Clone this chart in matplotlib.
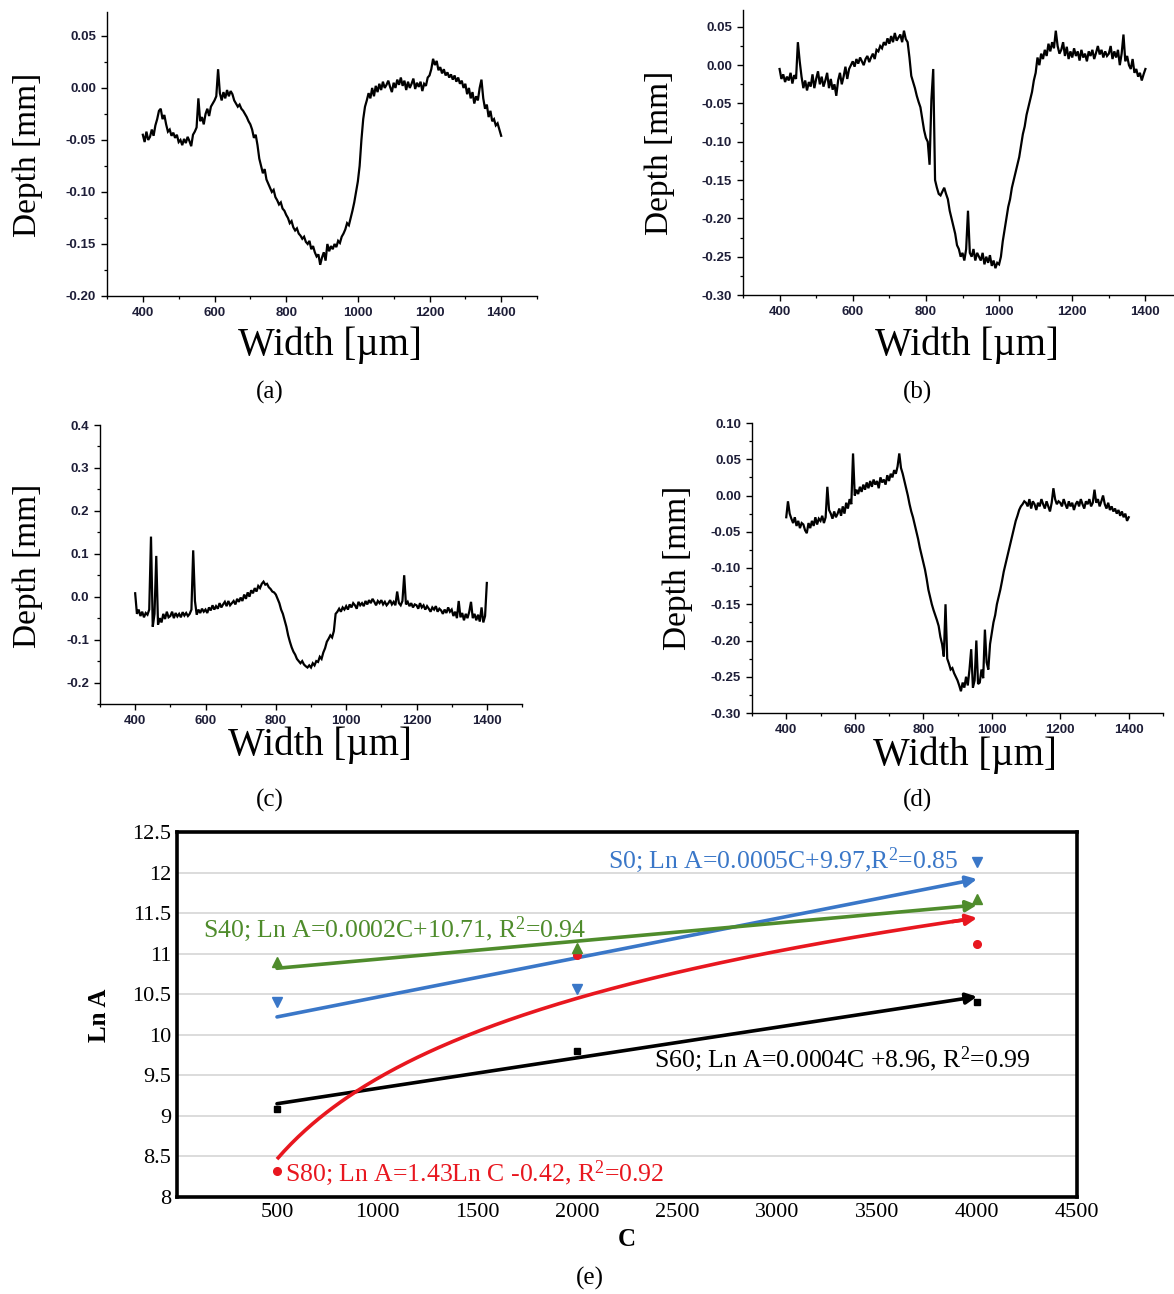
import numpy as np
import matplotlib
matplotlib.use("Agg")
import matplotlib.pyplot as plt
from matplotlib.ticker import FixedLocator, MultipleLocator, FuncFormatter

plt.rcParams['mathtext.fontset'] = 'custom'
plt.rcParams['mathtext.rm'] = 'Liberation Serif'
plt.rcParams['mathtext.it'] = 'Liberation Serif:italic'
plt.rcParams['mathtext.bf'] = 'Liberation Serif:bold'

W, H = 1174, 1294

# ---------------- profile data (panels a-d) ----------------
width_um = np.arange(400, 1401, 5)
width_ticks = [400, 600, 800, 1000, 1200, 1400]

depth_a = [
    -0.045, -0.052, -0.042, -0.050, -0.047, -0.040, -0.046, -0.036, -0.030, -0.022,
    -0.020, -0.030, -0.026, -0.035, -0.042, -0.040, -0.046, -0.043, -0.048, -0.045,
    -0.052, -0.050, -0.055, -0.049, -0.053, -0.047, -0.051, -0.056, -0.045, -0.042,
    -0.038, -0.010, -0.032, -0.028, -0.035, -0.025, -0.020, -0.027, -0.018, -0.015,
    -0.012, -0.008, 0.018, -0.005, -0.012, -0.004, -0.010, -0.002, -0.008, -0.003,
    -0.006, -0.012, -0.015, -0.018, -0.016, -0.020, -0.022, -0.025, -0.028, -0.032,
    -0.035, -0.040, -0.048, -0.045, -0.055, -0.068, -0.075, -0.082, -0.078, -0.088,
    -0.092, -0.096, -0.100, -0.098, -0.105, -0.108, -0.112, -0.110, -0.116, -0.118,
    -0.122, -0.125, -0.130, -0.128, -0.134, -0.137, -0.135, -0.140, -0.142, -0.145,
    -0.143, -0.148, -0.150, -0.147, -0.155, -0.152, -0.158, -0.162, -0.160, -0.170,
    -0.163, -0.158, -0.166, -0.150, -0.157, -0.152, -0.155, -0.150, -0.153, -0.147,
    -0.149, -0.143, -0.140, -0.136, -0.130, -0.132, -0.125, -0.118, -0.110, -0.100,
    -0.090, -0.075, -0.050, -0.030, -0.018, -0.012, -0.005, -0.010, 0.000, -0.008,
    0.002, -0.004, 0.004, -0.002, 0.006, 0.000, 0.003, 0.007, 0.001, -0.004,
    0.005, 0.000, 0.008, 0.003, 0.010, 0.002, 0.007, -0.002, 0.006, 0.000,
    0.004, 0.009, -0.001, 0.005, 0.001, 0.006, -0.003, 0.004, 0.002, 0.010,
    0.012, 0.018, 0.028, 0.022, 0.026, 0.017, 0.020, 0.014, 0.018, 0.012,
    0.015, 0.010, 0.013, 0.008, 0.012, 0.006, 0.010, 0.004, 0.007, 0.000,
    0.004, -0.006, 0.000, -0.010, -0.004, -0.015, -0.008, -0.012, 0.000, 0.008,
    -0.010, -0.020, -0.016, -0.028, -0.022, -0.032, -0.030, -0.036, -0.034, -0.040,
    -0.046]

depth_b = [
    -0.005, -0.018, -0.012, -0.022, -0.015, -0.020, -0.010, -0.024, -0.013, -0.018,
    0.030, 0.005, -0.015, -0.030, -0.020, -0.033, -0.022, -0.028, -0.012, -0.030,
    -0.018, -0.008, -0.025, -0.015, -0.028, -0.020, -0.010, -0.030, -0.018, -0.032,
    -0.025, -0.040, -0.020, -0.010, -0.025, -0.015, -0.002, -0.018, -0.005, 0.000,
    0.005, -0.002, 0.008, 0.002, 0.010, 0.005, 0.000, 0.008, 0.012, 0.004,
    0.010, 0.015, 0.008, 0.020, 0.018, 0.025, 0.022, 0.030, 0.026, 0.035,
    0.028, 0.038, 0.030, 0.042, 0.032, 0.036, 0.040, 0.030, 0.045, 0.034,
    0.030, 0.010, -0.014, -0.022, -0.030, -0.040, -0.048, -0.055, -0.070, -0.085,
    -0.095, -0.100, -0.130, -0.045, -0.005, -0.150, -0.160, -0.168, -0.170, -0.165,
    -0.160, -0.168, -0.175, -0.190, -0.200, -0.210, -0.220, -0.235, -0.240, -0.250,
    -0.245, -0.255, -0.240, -0.190, -0.245, -0.250, -0.240, -0.255, -0.245, -0.250,
    -0.255, -0.245, -0.260, -0.250, -0.258, -0.248, -0.262, -0.255, -0.265, -0.258,
    -0.260, -0.250, -0.230, -0.215, -0.200, -0.185, -0.175, -0.160, -0.150, -0.140,
    -0.130, -0.120, -0.105, -0.090, -0.080, -0.065, -0.055, -0.045, -0.035, -0.020,
    -0.010, 0.010, 0.000, 0.015, 0.008, 0.020, 0.012, 0.028, 0.018, 0.030,
    0.022, 0.045, 0.025, 0.015, 0.020, 0.030, 0.012, 0.024, 0.008, 0.018,
    0.010, 0.022, 0.012, 0.018, 0.006, 0.020, 0.010, 0.015, 0.005, 0.018,
    0.012, 0.020, 0.008, 0.016, 0.025, 0.014, 0.020, 0.010, 0.018, 0.012,
    0.015, 0.025, 0.008, 0.018, 0.010, 0.020, 0.000, 0.015, 0.040, 0.005,
    0.012, 0.000, -0.005, 0.008, -0.010, -0.005, -0.015, -0.010, -0.020, -0.012,
    -0.005]

depth_c = [
    0.008, -0.040, -0.030, -0.045, -0.035, -0.048, -0.038, -0.042, -0.030, 0.140,
    -0.070, -0.040, 0.095, -0.065, -0.050, -0.060, -0.040, -0.052, -0.035, -0.048,
    -0.045, -0.035, -0.050, -0.038, -0.046, -0.040, -0.048, -0.036, -0.044, -0.038,
    -0.045, -0.040, -0.030, 0.108, -0.010, -0.042, -0.030, -0.038, -0.028, -0.035,
    -0.030, -0.038, -0.025, -0.032, -0.020, -0.030, -0.022, -0.028, -0.015, -0.025,
    -0.018, -0.012, -0.022, -0.010, -0.020, -0.015, -0.010, -0.018, -0.005, -0.012,
    -0.002, -0.010, 0.005, -0.005, 0.010, 0.000, 0.015, 0.008, 0.020, 0.012,
    0.025, 0.020, 0.030, 0.035, 0.028, 0.030, 0.022, 0.018, 0.012, 0.010,
    0.005, -0.005, -0.015, -0.030, -0.040, -0.055, -0.070, -0.090, -0.105, -0.118,
    -0.128, -0.135, -0.145, -0.150, -0.155, -0.150, -0.158, -0.162, -0.165, -0.160,
    -0.165, -0.155, -0.160, -0.150, -0.152, -0.140, -0.145, -0.130, -0.120, -0.105,
    -0.098, -0.090, -0.095, -0.080, -0.040, -0.035, -0.028, -0.035, -0.025, -0.030,
    -0.022, -0.030, -0.018, -0.025, -0.015, -0.020, -0.028, -0.012, -0.020, -0.015,
    -0.022, -0.010, -0.018, -0.008, -0.015, -0.005, -0.012, -0.020, -0.010, -0.015,
    -0.008, -0.018, -0.012, -0.020, -0.015, -0.008, -0.018, -0.012, -0.020, 0.012,
    -0.015, -0.020, -0.010, 0.050, -0.018, -0.012, -0.022, -0.015, -0.025, -0.018,
    -0.020, -0.028, -0.015, -0.025, -0.020, -0.030, -0.022, -0.028, -0.035, -0.025,
    -0.030, -0.022, -0.035, -0.028, -0.032, -0.040, -0.030, -0.038, -0.025, -0.035,
    -0.030, -0.045, -0.035, -0.050, -0.010, -0.048, -0.038, -0.055, -0.040, -0.050,
    -0.035, -0.012, -0.050, -0.040, -0.055, -0.042, -0.058, -0.025, -0.060, -0.045,
    0.032]

depth_d = [
    -0.030, -0.008, -0.025, -0.032, -0.038, -0.030, -0.042, -0.035, -0.045, -0.038,
    -0.040, -0.048, -0.052, -0.038, -0.045, -0.035, -0.042, -0.030, -0.040, -0.032,
    -0.035, -0.028, -0.038, -0.030, 0.012, -0.020, -0.025, -0.032, -0.022, -0.030,
    -0.025, -0.018, -0.028, -0.015, -0.025, -0.010, -0.018, -0.005, -0.012, 0.058,
    0.000, 0.008, 0.002, 0.012, 0.005, 0.015, 0.008, 0.018, 0.010, 0.020,
    0.012, 0.022, 0.015, 0.020, 0.010, 0.025, 0.018, 0.022, 0.015, 0.028,
    0.020, 0.030, 0.025, 0.035, 0.030, 0.040, 0.058, 0.038, 0.030, 0.020,
    0.010, 0.000, -0.012, -0.022, -0.030, -0.040, -0.050, -0.060, -0.072, -0.082,
    -0.092, -0.102, -0.115, -0.130, -0.140, -0.150, -0.158, -0.165, -0.172, -0.180,
    -0.195, -0.205, -0.222, -0.150, -0.225, -0.232, -0.240, -0.238, -0.245, -0.250,
    -0.255, -0.262, -0.270, -0.258, -0.265, -0.250, -0.262, -0.240, -0.212, -0.265,
    -0.255, -0.200, -0.260, -0.258, -0.240, -0.252, -0.185, -0.230, -0.240, -0.205,
    -0.190, -0.175, -0.165, -0.150, -0.140, -0.130, -0.118, -0.105, -0.095, -0.085,
    -0.075, -0.065, -0.055, -0.045, -0.035, -0.028, -0.020, -0.015, -0.012, -0.008,
    -0.010, -0.015, -0.005, -0.018, -0.008, -0.012, -0.020, -0.010, -0.015, -0.005,
    -0.012, -0.018, -0.008, -0.015, -0.022, -0.010, 0.010, -0.005, -0.012, -0.008,
    -0.010, -0.015, -0.005, -0.012, -0.018, -0.008, -0.015, -0.010, -0.020, -0.012,
    -0.008, -0.015, -0.005, -0.012, -0.018, -0.008, -0.012, -0.005, -0.015, -0.010,
    0.008, -0.010, -0.005, -0.015, -0.008, 0.000, -0.012, -0.018, -0.010, -0.020,
    -0.015, -0.022, -0.018, -0.025, -0.020, -0.028, -0.022, -0.030, -0.025, -0.035,
    -0.030]

depth_ticks_a = [-0.20, -0.15, -0.10, -0.05, 0.00, 0.05]
depth_ticks_b = [-0.30, -0.25, -0.20, -0.15, -0.10, -0.05, 0.00, 0.05]
depth_ticks_c = [-0.2, -0.1, 0.0, 0.1, 0.2, 0.3, 0.4]
depth_ticks_d = [-0.30, -0.25, -0.20, -0.15, -0.10, -0.05, 0.00, 0.05, 0.10]

# ---------------- panel (e) data ----------------
C_values = [500, 2000, 4000]
lnA_S0 = [10.40, 10.57, 12.13]
lnA_S40 = [10.90, 11.07, 11.68]
lnA_S60 = [9.08, 9.80, 10.40]
lnA_S80 = [8.32, 10.98, 11.12]
trend_C = [500, 4000]
trend_S0 = [10.22, 11.92]
trend_S40 = [10.82, 11.60]
trend_S60 = [9.15, 10.47]
log_fit_S80 = [1.43, -0.42]   # Ln A = a*Ln C + b
C_ticks = [500, 1000, 1500, 2000, 2500, 3000, 3500, 4000, 4500]
lnA_ticks = [8, 8.5, 9, 9.5, 10, 10.5, 11, 11.5, 12, 12.5]

labels_e = ["S0; Ln A=0.0005C+9.97,R$^2$=0.85",
            "S40; Ln A=0.0002C+10.71, R$^2$=0.94",
            "S60; Ln A=0.0004C +8.96, R$^2$=0.99",
            "S80; Ln A=1.43Ln C -0.42, R$^2$=0.92"]

fig = plt.figure(figsize=(W / 100, H / 100), dpi=100)


def rect(left, top, right, bottom):
    return [left / W, 1 - bottom / H, (right - left) / W, (bottom - top) / H]


def ftext(px, py, s, **kw):
    fig.text(px / W, 1 - py / H, s, ha='center', va='center', **kw)


serif = 'Liberation Serif'
tick_col = '#1e1e38'


def profile_panel(r, y, ylim, yticks, yminor, fmt):
    ax = fig.add_axes(r)
    ax.plot(width_um, y, color='black', lw=1.6, solid_joinstyle='miter')
    ax.set_xlim(300, 1500)
    ax.set_ylim(*ylim)
    ax.xaxis.set_major_locator(FixedLocator(width_ticks))
    ax.xaxis.set_minor_locator(MultipleLocator(100))
    ax.yaxis.set_major_locator(FixedLocator(yticks))
    ax.yaxis.set_minor_locator(MultipleLocator(yminor))
    ax.yaxis.set_major_formatter(FuncFormatter(lambda v, p: fmt % v))
    for s in ['top', 'right']:
        ax.spines[s].set_visible(False)
    for s in ['left', 'bottom']:
        ax.spines[s].set_linewidth(1.0)
    ax.tick_params(which='major', direction='out', length=4, width=1.0,
                   labelsize=9.5, labelcolor=tick_col, pad=4)
    ax.tick_params(which='minor', direction='out', length=2.5, width=0.9)
    for lab in ax.get_xticklabels() + ax.get_yticklabels():
        lab.set_fontfamily('Liberation Sans')
        lab.set_fontweight('bold')
    return ax


profile_panel(rect(107, 12, 537, 296), depth_a, (-0.20, 0.073), depth_ticks_a, 0.025, '%.2f')
profile_panel(rect(743, 10, 1182, 295), depth_b, (-0.30, 0.072), depth_ticks_b, 0.025, '%.2f')
profile_panel(rect(100, 425, 522, 704), depth_c, (-0.25, 0.40), depth_ticks_c, 0.05, '%.1f')
profile_panel(rect(752, 423, 1163, 713), depth_d, (-0.30, 0.10), depth_ticks_d, 0.025, '%.2f')

lab_kw = dict(family=serif, color='black')
for (dx, dy), (wx, wy), (cx, cy), cap in [((28, 155), (330, 345), (270, 392), '(a)'),
                                          ((660, 153), (967, 345), (917, 392), '(b)'),
                                          ((28, 566), (320, 745), (270, 800), '(c)'),
                                          ((678, 568), (965, 755), (917, 800), '(d)')]:
    ftext(dx, dy, 'Depth [mm]', rotation=90, fontsize=24, **lab_kw)
    ftext(wx, wy, 'Width [µm]', fontsize=28, **lab_kw)
    ftext(cx, cy, cap, fontsize=18, **lab_kw)

# ---------------- panel (e) ----------------
axe = fig.add_axes(rect(177, 832, 1077, 1197))
axe.set_xlim(0, 4500)
axe.set_ylim(8, 12.5)
axe.set_xticks(C_ticks)
axe.set_yticks(lnA_ticks)
axe.yaxis.set_major_formatter(FuncFormatter(lambda v, p: '%g' % v))
axe.grid(axis='y', color='#d9d9d9', lw=1.3, zorder=0)
axe.set_axisbelow(True)
axe.tick_params(length=0, labelsize=16, pad=4, labelfontfamily=serif)
for sp in axe.spines.values():
    sp.set_linewidth(2.6)

c_blue, c_green, c_black, c_red = '#3a77c8', '#4f8c2c', '#000000', '#e8171f'


def trend(c0, c1, y0, y1, col):
    axe.annotate('', xy=(c1, y1), xytext=(c0, y0),
                 arrowprops=dict(arrowstyle='-|>', color=col, lw=2.6,
                                 mutation_scale=16, shrinkA=0, shrinkB=0),
                 zorder=3)


trend(trend_C[0], trend_C[1], trend_S0[0], trend_S0[1], c_blue)
trend(trend_C[0], trend_C[1], trend_S40[0], trend_S40[1], c_green)
trend(trend_C[0], trend_C[1], trend_S60[0], trend_S60[1], c_black)

Cc = np.linspace(trend_C[0], trend_C[1], 200)
ln80 = log_fit_S80[0] * np.log(Cc) + log_fit_S80[1]
axe.plot(Cc[:-3], ln80[:-3], color=c_red, lw=2.6, zorder=3, solid_capstyle='butt')
axe.annotate('', xy=(Cc[-1], ln80[-1]), xytext=(Cc[-8], ln80[-8]),
             arrowprops=dict(arrowstyle='-|>', color=c_red, lw=2.6,
                             mutation_scale=16, shrinkA=0, shrinkB=0), zorder=3)

axe.plot(C_values, lnA_S0, 'v', color=c_blue, ms=7, zorder=4, ls='none')
axe.plot(C_values, lnA_S80, 'o', color=c_red, ms=5.5, zorder=4, ls='none')
axe.plot(C_values, lnA_S40, '^', color=c_green, ms=7, zorder=4, ls='none')
axe.plot(C_values, lnA_S60, 's', color=c_black, ms=5, zorder=4, ls='none')

tkw = dict(family=serif, fontsize=18.5, ha='left', va='center', zorder=5)
axe.text(2157, 12.155, labels_e[0], color=c_blue, **tkw)
axe.text(128, 11.30, labels_e[1], color=c_green, **tkw)
axe.text(2383, 9.70, labels_e[2], color=c_black, **tkw)
axe.text(540, 8.296, labels_e[3], color=c_red, **tkw)

ftext(627, 1240, 'C', fontsize=18, fontweight='bold', family=serif)
ftext(100, 1015, 'Ln A', rotation=90, fontsize=18, fontweight='bold', family=serif)
ftext(590, 1278, '(e)', fontsize=18, family=serif)

fig.savefig('out.png', dpi=100)
